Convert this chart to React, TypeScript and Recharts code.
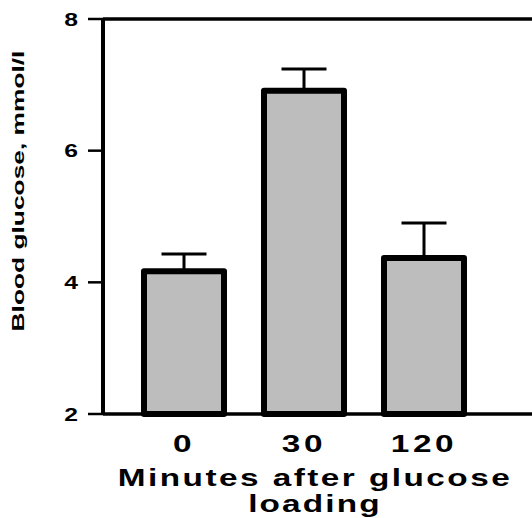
import React from "react";
import {
  BarChart,
  Bar,
  XAxis,
  YAxis,
  ErrorBar,
  ReferenceLine,
  Label,
} from "recharts";

const categories = ["0", "30", "120"];
const glucoseMeans = [4.17, 6.91, 4.37];
const glucoseSem = [0.26, 0.33, 0.53];
const yTicks = [2, 4, 6, 8];

const data = categories.map((c, i) => ({
  minutes: c,
  mean: glucoseMeans[i],
  err: [0, glucoseSem[i]],
}));

const FONT = "'Liberation Sans', Arial, Helvetica, sans-serif";

// the original lettering is wide, so text is stretched along its direction
const YTick = (props: any) => {
  const { x, y, payload } = props;
  return (
    <g transform={`translate(${x},${y})`}>
      <text
        transform="scale(1.3,1)"
        textAnchor="end"
        dy={6.5}
        fontFamily={FONT}
        fontWeight="bold"
        fontSize={19}
        fill="#000"
      >
        {payload.value}
      </text>
    </g>
  );
};

const XTick = (props: any) => {
  const { x, payload } = props;
  return (
    <g transform={`translate(${x},452)`}>
      <text
        transform="scale(1.45,1)"
        textAnchor="middle"
        fontFamily={FONT}
        fontWeight="bold"
        fontSize={23}
        letterSpacing={2.5}
        fill="#000"
      >
        {payload.value}
      </text>
    </g>
  );
};

const XTitle = () => (
  <g fontFamily={FONT} fontWeight="bold" fontSize={23} fill="#000">
    <g transform="translate(315,486)">
      <text transform="scale(1.45,1)" textAnchor="middle" letterSpacing={1.7}>
        Minutes after glucose
      </text>
    </g>
    <g transform="translate(315,512)">
      <text transform="scale(1.45,1)" textAnchor="middle" letterSpacing={1.5}>
        loading
      </text>
    </g>
  </g>
);

const YTitle = () => (
  <g transform="translate(24,191) rotate(-90)">
    <text
      transform="scale(1.55,1)"
      textAnchor="middle"
      fontFamily={FONT}
      fontWeight="bold"
      fontSize={17}
      fill="#000"
    >
      Blood glucose, mmol/l
    </text>
  </g>
);

export default function App() {
  return (
    <div style={{ position: "absolute", left: 0, top: 0, background: "#fff" }}>
      <BarChart
        width={532}
        height={518}
        data={data}
        margin={{ top: 19, right: 0, bottom: 0, left: 0 }}
        barCategoryGap={20}
      >
        <XAxis
          dataKey="minutes"
          height={104}
          padding={{ left: 21, right: 48 }}
          axisLine={{ stroke: "#000", strokeWidth: 3.5 }}
          tickLine={false}
          tick={<XTick />}
        >
          <Label content={<XTitle />} />
        </XAxis>
        <YAxis
          type="number"
          domain={[2, 8]}
          ticks={yTicks}
          width={103}
          tickSize={15}
          tickMargin={10}
          axisLine={{ stroke: "#000", strokeWidth: 4 }}
          tickLine={{ stroke: "#000", strokeWidth: 2.5 }}
          tick={<YTick />}
        >
          <Label content={<YTitle />} />
        </YAxis>
        <ReferenceLine y={8} stroke="#000" strokeWidth={3.3} />
        <Bar
          dataKey="mean"
          fill="#bdbdbd"
          stroke="#000"
          strokeWidth={6}
          strokeLinejoin="round"
          isAnimationActive={false}
        >
          <ErrorBar
            dataKey="err"
            direction="y"
            width={22.5}
            stroke="#000"
            strokeWidth={3}
            isAnimationActive={false}
          />
        </Bar>
      </BarChart>
    </div>
  );
}
